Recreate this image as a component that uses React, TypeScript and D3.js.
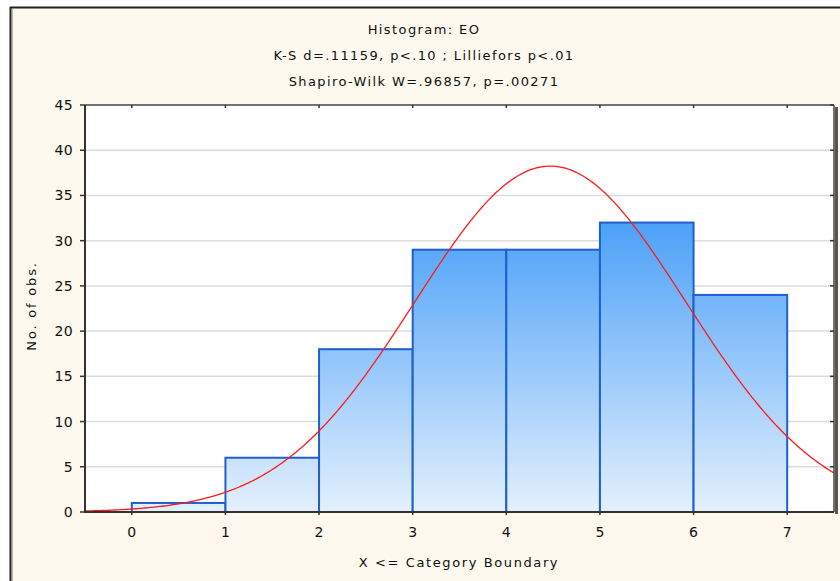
import React from "react";
import * as d3 from "d3";

const boundaries = [0, 1, 2, 3, 4, 5, 6, 7];
const counts = [1, 6, 18, 29, 29, 32, 24];
const yTicks = [0, 5, 10, 15, 20, 25, 30, 35, 40, 45];
const titleLines = [
  "Histogram: EO",
  "K-S d=.11159, p<.10 ; Lilliefors p<.01",
  "Shapiro-Wilk W=.96857, p=.00271",
];
const fitMean = 4.47;
const fitSd = 1.45;

const W = 840;
const H = 581;
const L = 85, R = 834, T = 105, B = 512;
const FONT = "'DejaVu Sans', Verdana, sans-serif";

export default function App() {
  const x = d3.scaleLinear().domain([-0.5, 7.5]).range([L, R]);
  const y = d3.scaleLinear().domain([0, 45]).range([B, T]);
  const n = d3.sum(counts);
  const curvePts = d3.range(-0.5, 7.5001, 0.02).map((v) => [
    v,
    (n / (fitSd * Math.sqrt(2 * Math.PI))) * Math.exp(-((v - fitMean) ** 2) / (2 * fitSd * fitSd)),
  ]);
  const line = d3
    .line<number[]>()
    .x((d) => x(d[0]))
    .y((d) => y(d[1]));

  return (
    <svg
      width={W}
      height={H}
      style={{ position: "absolute", left: 0, top: 0, display: "block" }}
      fontFamily={FONT}
    >
      <defs>
        <linearGradient id="barg" gradientUnits="userSpaceOnUse" x1="0" y1={T} x2="0" y2={B}>
          <stop offset="0%" stopColor="#3a92f2" />
          <stop offset="30%" stopColor="#4ea2f8" />
          <stop offset="100%" stopColor="#e4f0fd" />
        </linearGradient>
        <clipPath id="pc">
          <rect x={L} y={T} width={R - L} height={B - T} />
        </clipPath>
      </defs>
      <rect x={0} y={0} width={W} height={H} fill="#ffffff" />
      <rect x={10} y={7} width={W - 10} height={H - 7} fill="#fdf9ef" />
      <line x1={10.5} y1={7} x2={10.5} y2={H} stroke="#222" strokeWidth={2} />
      <line x1={10} y1={7.5} x2={W} y2={7.5} stroke="#222" strokeWidth={2} />
      <line x1={12.5} y1={9} x2={12.5} y2={H} stroke="#b8b4a8" strokeWidth={1} />

      {titleLines.map((t, i) => (
        <text
          key={i}
          x={424}
          y={34 + i * 26}
          textAnchor="middle"
          fontSize={13}
          letterSpacing={1.4}
          fill="#111"
        >
          {t}
        </text>
      ))}

      <rect x={L} y={T} width={R - L} height={B - T} fill="#ffffff" />
      {yTicks.slice(1, -1).map((t) => (
        <line key={t} x1={L} x2={R} y1={y(t)} y2={y(t)} stroke="#dcdcdc" strokeWidth={1.5} />
      ))}

      {counts.map((c, i) => (
        <rect
          key={i}
          x={x(boundaries[i])}
          y={y(c)}
          width={x(boundaries[i + 1]) - x(boundaries[i])}
          height={y(0) - y(c)}
          fill="url(#barg)"
          stroke="#1f5fd0"
          strokeWidth={2}
        />
      ))}

      <path
        d={line(curvePts) || ""}
        fill="none"
        stroke="#ff1a1a"
        strokeWidth={1.3}
        clipPath="url(#pc)"
      />

      {/* frame */}
      <line x1={L} y1={T} x2={R} y2={T} stroke="#444" strokeWidth={1.5} />
      <line x1={R} y1={T} x2={R} y2={B} stroke="#444" strokeWidth={1.5} />
      <line x1={R + 2.5} y1={T + 2} x2={R + 2.5} y2={B + 2} stroke="#555" strokeWidth={3} />
      <line x1={L} y1={T} x2={L} y2={B + 1} stroke="#333" strokeWidth={2} />
      <line x1={L} y1={B} x2={R} y2={B} stroke="#333" strokeWidth={2} />

      {yTicks.map((t) => (
        <g key={t}>
          <line x1={L - 5} x2={L} y1={y(t)} y2={y(t)} stroke="#333" strokeWidth={1.5} />
          <line x1={R - 4} x2={R} y1={y(t)} y2={y(t)} stroke="#333" strokeWidth={1.5} />
          <text x={73} y={y(t) + 5} textAnchor="end" fontSize={14} letterSpacing={0.3} fill="#111">
            {t}
          </text>
        </g>
      ))}
      {boundaries.map((b) => (
        <g key={b}>
          <line x1={x(b)} x2={x(b)} y1={T} y2={T + 3} stroke="#333" strokeWidth={1.5} />
          <line x1={x(b)} x2={x(b)} y1={B} y2={B + 3} stroke="#333" strokeWidth={1.5} />
          <text x={x(b)} y={537} textAnchor="middle" fontSize={14} fill="#111">
            {b}
          </text>
        </g>
      ))}

      <text x={459} y={567} textAnchor="middle" fontSize={13} letterSpacing={1.6} fill="#111">
        X &lt;= Category Boundary
      </text>
      <text
        transform={`translate(36, 306) rotate(-90)`}
        textAnchor="middle"
        fontSize={13}
        letterSpacing={1.8}
        fill="#111"
      >
        No. of obs.
      </text>
    </svg>
  );
}
